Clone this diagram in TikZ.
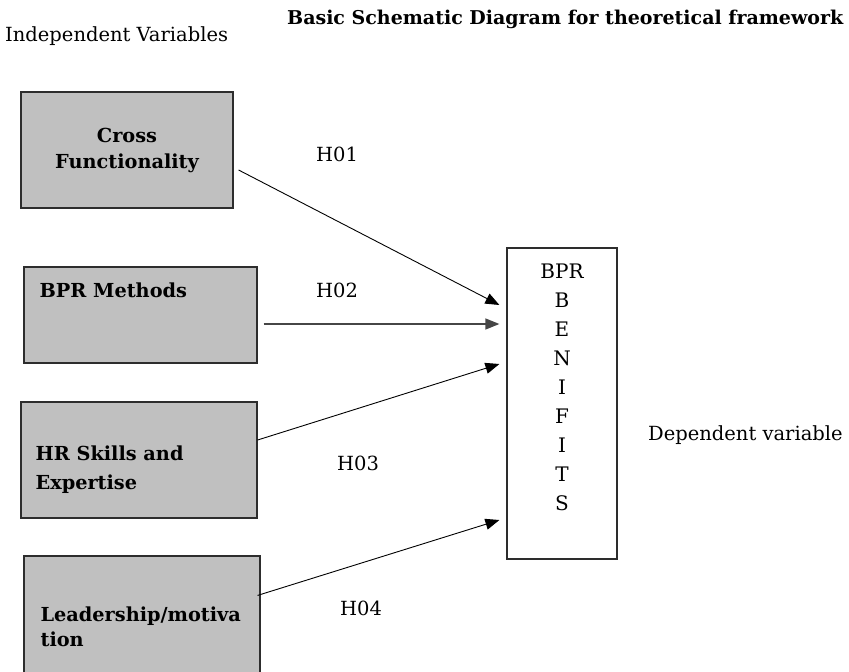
\documentclass[tikz,border=0pt]{standalone}
\usepackage{fontspec}
\setmainfont{DejaVu Serif}
\usetikzlibrary{arrows.meta}

\definecolor{boxgray}{RGB}{192,192,192}
\definecolor{edgegray}{RGB}{45,45,45}

\newcommand{\boxfont}{\bfseries\fontsize{19.3}{26}\selectfont}
\newcommand{\plainfont}{\fontsize{19.5}{22}\selectfont}

\begin{document}
\begin{tikzpicture}[x=1pt,y=1pt,yscale=-1,
    varbox/.style={draw=edgegray, line width=1.2pt, fill=boxgray, inner sep=0pt},
    depbox/.style={draw=edgegray, line width=1.2pt, fill=white, inner sep=0pt},
    boxtext/.style={font=\boxfont, inner sep=0pt, align=left},
    plaintext/.style={font=\plainfont, inner sep=0pt},
    hyparrow/.style={draw=black, line width=0.9pt, -{Triangle[length=14pt,width=11pt]}}]
    \useasboundingbox (0,0) rectangle (849,672);

    % Text Node
    \node (title) [anchor=west, inner sep=0pt, font=\bfseries\fontsize{19}{22}\selectfont] at (287,19) {Basic Schematic Diagram for theoretical framework};
    % Text Node
    \node (indep) [plaintext, anchor=west] at (5,36) {Independent Variables};

    %Shape: Rectangle
    \node (cf) [varbox, minimum width=212, minimum height=116, align=center, font=\boxfont] at (127,150) {Cross\\Functionality};
    %Shape: Rectangle
    \node (bm) [varbox, minimum width=233, minimum height=96] at (140.5,315) {};
    %Shape: Rectangle
    \node (hr) [varbox, minimum width=236, minimum height=116] at (139,460) {};
    %Shape: Rectangle
    \node (ld) [varbox, minimum width=236, minimum height=130] at (142,621) {};
    %Shape: Rectangle
    \node (ben) [depbox, minimum width=110, minimum height=311] at (562,403.5) {};

    % Text Node
    \node (bmt) [boxtext, anchor=west] at ([shift={(16,24)}]bm.north west) {BPR Methods};
    % Text Node
    \node (hrt) [boxtext, anchor=west, font=\bfseries\fontsize{19.3}{29}\selectfont] at ([shift={(15,9.5)}]hr.west) {HR Skills and\\Expertise};
    % Text Node
    \node (ldt) [boxtext, anchor=west, font=\bfseries\fontsize{19.3}{25}\selectfont] at ([shift={(17,71.5)}]ld.north west) {Leadership/motiva\\tion};
    % Text Node
    \node (bent) [anchor=north, inner sep=0pt, align=center, font=\fontsize{20}{29}\selectfont] at ([yshift=16]ben.north) {BPR\\B\\E\\N\\I\\F\\I\\T\\S};
    % Text Node
    \node (dep) [plaintext, anchor=west] at (648,435) {Dependent variable};

    % arrow ends
    \coordinate (e1) at ([shift={(-7,-98.5)}]ben.west);
    \coordinate (e2) at ([shift={(-7,-79.5)}]ben.west);
    \coordinate (e3) at ([shift={(-7,-39.5)}]ben.west);
    \coordinate (e4) at ([shift={(-7,116.5)}]ben.west);

    %Straight Lines
    \draw [hyparrow] ([shift={(5,20)}]cf.east) -- (e1);
    \draw [hyparrow, line width=1.3pt, draw={rgb,255:red,70;green,70;blue,70}] ([shift={(6,9)}]bm.east) -- (e2);
    \draw [hyparrow] ([shift={(0,-20)}]hr.east) -- (e3);
    \draw [hyparrow] ([shift={(-3,40)}]ld.north east) -- (e4);

    % Text Node
    \node (h1) [plaintext] at (337,154) {H01};
    % Text Node
    \node (h2) [plaintext] at (337,290) {H02};
    % Text Node
    \node (h3) [plaintext] at (358,463) {H03};
    % Text Node
    \node (h4) [plaintext] at (361,608) {H04};
\end{tikzpicture}
\end{document}
